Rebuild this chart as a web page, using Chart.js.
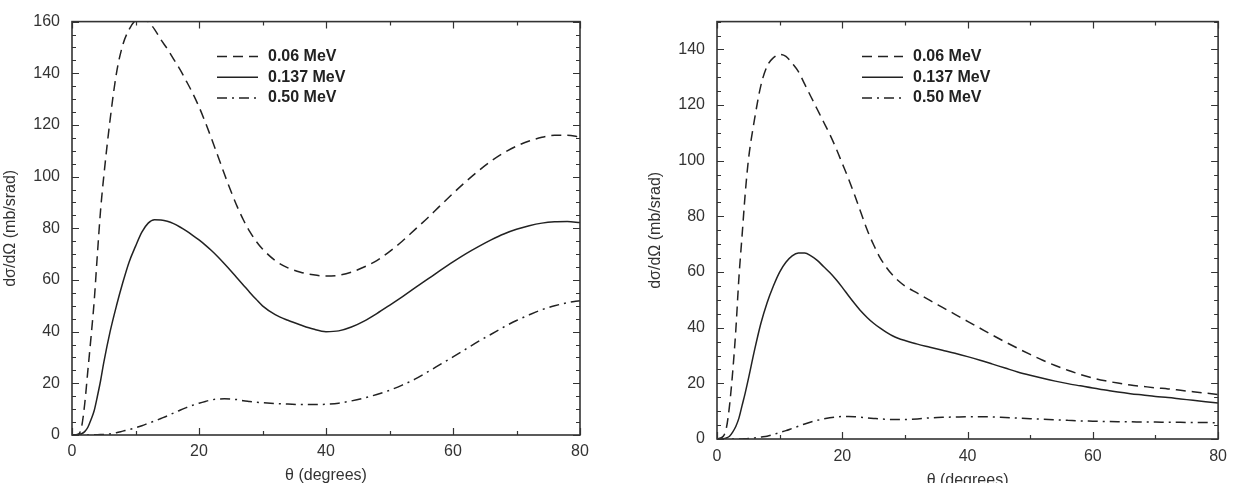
<!DOCTYPE html>
<html>
<head>
<meta charset="utf-8">
<script src="https://cdn.jsdelivr.net/npm/chart.js@4.4.1/dist/chart.umd.min.js"></script>
<style>
  html, body { margin: 0; padding: 0; background: #fff; overflow: hidden; }
  .panel { position: absolute; top: 0; height: 500px; }
  #left { left: 0; width: 600px; }
  #right { left: 615px; width: 620px; }
</style>
</head>
<body>
<div class="panel" id="left"><canvas id="c1"></canvas></div>
<div class="panel" id="right"><canvas id="c2"></canvas></div>
<script>
// scattering angle (degrees), shared by all curves
const theta = [0, 1, 1.5, 2, 2.5, 3, 3.5, 4, 4.5, 5,
  6, 7, 8, 9, 10, 11, 12, 13, 14, 15,
  16, 17, 18, 19, 20, 21, 22, 23, 24, 25,
  26, 27, 28, 29, 30, 32, 34, 36, 38, 40,
  42, 44, 46, 48, 50, 52, 54, 56, 58, 60,
  62, 64, 66, 68, 70, 72, 74, 76, 78, 80];

const seriesNames = ['0.06 MeV', '0.137 MeV', '0.50 MeV'];

// left panel
const left06 = [0, 0.3, 3, 12, 25, 38, 52, 70, 87, 100,
  122, 140, 151, 157, 160.5, 161.5, 160, 157, 153, 149.5,
  145.5, 141.5, 137, 132.3, 127, 121, 114.5, 107.8, 101, 94.5,
  88.5, 83.2, 78.7, 75, 72, 67.5, 64.7, 63, 62, 61.5,
  61.8, 63, 65, 67.5, 71, 75, 79.5, 84, 88.8, 93.5,
  98, 102.2, 106, 109.2, 111.8, 113.8, 115.2, 116, 116, 115.3];
const left137 = [0, 0.2, 0.5, 1.3, 3, 6, 9.5, 15, 21, 28,
  40, 50, 59, 67, 73, 78.5, 82, 83.3, 83.2, 82.7,
  81.8, 80.5, 79, 77.3, 75.5, 73.5, 71.3, 68.9, 66.3, 63.6,
  60.8, 58, 55.2, 52.5, 50, 46.6, 44.4, 42.6, 41, 40,
  40.3, 41.8, 44.1, 47, 50.2, 53.5, 56.9, 60.3, 63.7, 67,
  70.1, 72.9, 75.5, 77.8, 79.6, 81, 82, 82.5, 82.6, 82.2];
const left50 = [0, 0, 0, 0, 0, 0, 0.05, 0.1, 0.15, 0.2,
  0.4, 0.9, 1.5, 2.1, 2.8, 3.6, 4.5, 5.4, 6.4, 7.4,
  8.5, 9.6, 10.6, 11.5, 12.3, 13, 13.6, 13.9, 14, 13.9,
  13.7, 13.3, 13, 12.7, 12.5, 12.2, 12, 11.8, 11.8, 11.9,
  12.3, 13.2, 14.3, 15.7, 17.3, 19.3, 21.6, 24.4, 27.3, 30.2,
  33.2, 36.2, 39, 41.8, 44.3, 46.5, 48.5, 50, 51.2, 52];

// right panel
const right06 = [0, 1, 4, 12, 24, 39, 58, 73, 88, 100,
  115, 127, 134, 137, 138.2, 137.5, 135, 132, 127.5, 123,
  118.5, 114, 109.5, 104.5, 99, 93.5, 87.5, 81.2, 75, 69.8,
  65.3, 61.8, 59, 56.8, 55, 52.4, 49.8, 47.3, 44.8, 42.3,
  39.8, 37.3, 34.9, 32.6, 30.4, 28.3, 26.4, 24.7, 23.2, 21.9,
  20.9, 20.1, 19.4, 18.9, 18.4, 18, 17.5, 17, 16.5, 16];
const right137 = [0, 0.1, 0.4, 1, 2.5, 4.5, 7.5, 12, 16.5, 21.5,
  32, 41.5, 49, 55, 60, 63.5, 65.8, 66.8, 66.8, 65.8,
  64.2, 62, 59.8, 57.3, 54.5, 51.5, 48.6, 45.9, 43.6, 41.6,
  39.9, 38.4, 37.1, 36.1, 35.4, 34.1, 33, 31.9, 30.8, 29.6,
  28.3, 26.9, 25.5, 24.1, 22.9, 21.8, 20.8, 19.9, 19.1, 18.3,
  17.6, 16.9, 16.3, 15.8, 15.3, 14.9, 14.4, 13.9, 13.4, 12.9];
const right50 = [0, 0, 0, 0, 0, 0, 0, 0, 0.1, 0.15,
  0.4, 0.7, 1, 1.6, 2.3, 3, 3.8, 4.6, 5.4, 6.1,
  6.7, 7.2, 7.6, 7.9, 8.1, 8.1, 8, 7.8, 7.6, 7.4,
  7.2, 7.1, 7, 7, 7, 7.2, 7.6, 7.8, 7.9, 8,
  8, 7.9, 7.7, 7.5, 7.3, 7.1, 6.9, 6.7, 6.5, 6.4,
  6.3, 6.2, 6.2, 6.1, 6.1, 6, 6, 5.9, 5.9, 5.8];

const dashes = [[10, 6], [], [10, 5, 2, 5]];
const FONT = '"Liberation Sans", Arial, Helvetica, sans-serif';
const INK = '#222';

// frame + inward ticks on all four sides (gnuplot style)
const framePlugin = {
  id: 'frame',
  afterDatasetsDraw(chart) {
    const { ctx, chartArea: a, scales: { x, y } } = chart;
    ctx.save();
    ctx.strokeStyle = '#333';
    ctx.lineWidth = 1.2;
    ctx.beginPath();
    for (let v = x.min; v <= x.max; v += 10) {
      const px = Math.round(x.getPixelForValue(v)) + 0.5;
      const len = v % 20 === 0 ? 7 : 4;
      ctx.moveTo(px, a.bottom); ctx.lineTo(px, a.bottom - len);
      ctx.moveTo(px, a.top); ctx.lineTo(px, a.top + len);
    }
    for (let v = y.min; v <= y.max; v += 5) {
      const py = Math.round(y.getPixelForValue(v)) + 0.5;
      const len = v % 20 === 0 ? 7 : 4;
      ctx.moveTo(a.left, py); ctx.lineTo(a.left + len, py);
      ctx.moveTo(a.right, py); ctx.lineTo(a.right - len, py);
    }
    ctx.stroke();
    ctx.lineWidth = 1.6;
    ctx.strokeRect(a.left, a.top, a.right - a.left, a.bottom - a.top);
    ctx.restore();
  }
};

// key inside the plot: line sample then bold label
const keyPlugin = {
  id: 'key',
  afterDatasetsDraw(chart) {
    const { ctx, chartArea: a } = chart;
    ctx.save();
    chart.data.datasets.forEach((ds, i) => {
      const yy = a.top + 35 + i * 20.7;
      const x0 = a.left + 145;
      ctx.setLineDash(ds.borderDash);
      ctx.strokeStyle = ds.borderColor;
      ctx.lineWidth = ds.borderWidth;
      ctx.beginPath();
      ctx.moveTo(x0, yy);
      ctx.lineTo(x0 + 41, yy);
      ctx.stroke();
      ctx.setLineDash([]);
      ctx.fillStyle = INK;
      ctx.font = 'bold 16px ' + FONT;
      ctx.textBaseline = 'middle';
      ctx.fillText(ds.label, x0 + 51, yy);
    });
    ctx.restore();
  }
};

function makeChart(id, series, yMax, g) {
  const datasets = series.map((vals, i) => ({
    label: seriesNames[i],
    data: theta.map((t, k) => ({ x: t, y: vals[k] })),
    borderColor: INK,
    borderWidth: 1.5,
    borderDash: dashes[i],
    pointRadius: 0,
    cubicInterpolationMode: 'monotone',
    clip: 0
  }));

  return new Chart(document.getElementById(id), {
    type: 'line',
    data: { datasets },
    plugins: [framePlugin, keyPlugin],
    options: {
      responsive: true,
      maintainAspectRatio: false,
      animation: false,
      events: [],
      layout: { padding: { top: g.top, right: g.right, left: 0, bottom: 0 } },
      plugins: { legend: { display: false }, tooltip: { enabled: false } },
      scales: {
        x: {
          type: 'linear',
          min: 0, max: 80,
          border: { display: false },
          grid: { display: false, drawTicks: false },
          ticks: { stepSize: 20, padding: g.xPad, color: '#333', font: { family: FONT, size: 16 } },
          title: {
            display: true, text: 'θ (degrees)', color: '#333',
            font: { family: FONT, size: 16 }, padding: { top: 0, bottom: g.xTitle }
          },
          afterFit(s) { s.height = g.xHeight; }
        },
        y: {
          min: 0, max: yMax,
          border: { display: false },
          grid: { display: false, drawTicks: false },
          ticks: { stepSize: 20, includeBounds: false, padding: 12, color: '#333', font: { family: FONT, size: 16 } },
          title: {
            display: true, text: 'dσ/dΩ (mb/srad)', color: '#333',
            font: { family: FONT, size: 16 }, padding: { top: g.yTitle, bottom: 0 }
          },
          afterFit(s) { s.width = g.yWidth; }
        }
      }
    }
  });
}

makeChart('c1', [left06, left137, left50], 160,
  { top: 12, right: 20, yWidth: 72, xHeight: 65, xPad: 7, xTitle: 15, yTitle: 1 });
makeChart('c2', [right06, right137, right50], 150,
  { top: 15, right: 10, yWidth: 102, xHeight: 61, xPad: 8, xTitle: 9.5, yTitle: 30.5 });
</script>
</body>
</html>
